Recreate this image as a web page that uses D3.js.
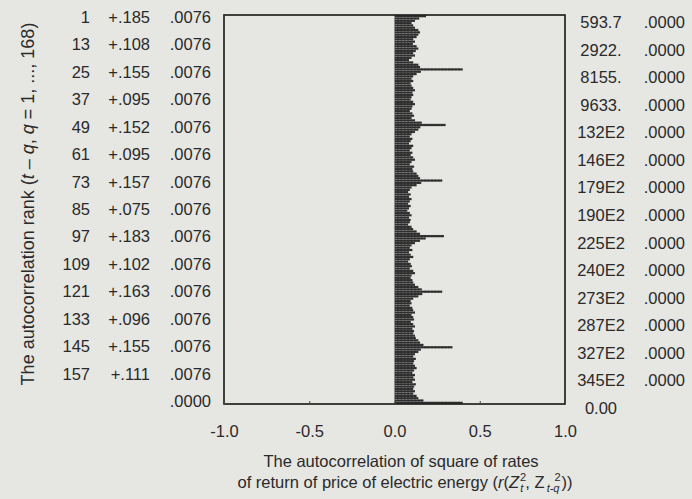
<!DOCTYPE html>
<html>
<head>
<meta charset="utf-8">
<script src="https://cdn.jsdelivr.net/npm/d3@7"></script>
<style>
  html, body { margin: 0; padding: 0; background: #e6e6e2; }
  svg { display: block; font-family: "Liberation Sans", Arial, sans-serif; }
  text { fill: #2a2a2a; }
</style>
</head>
<body>
<svg id="chart" width="692" height="499"></svg>
<script>
// Autocorrelation of squared returns, lags 1..168
const acf = [
  0.185, 0.145, 0.120, 0.100, 0.110, 0.120, 0.140, 0.150, 0.140, 0.130, 0.110, 0.120,
  0.108, 0.130, 0.140, 0.125, 0.110, 0.120, 0.100, 0.085, 0.110, 0.140, 0.150, 0.400,
  0.155, 0.130, 0.110, 0.100, 0.110, 0.095, 0.100, 0.110, 0.120, 0.105, 0.110, 0.100,
  0.095, 0.110, 0.120, 0.105, 0.100, 0.090, 0.105, 0.115, 0.100, 0.120, 0.160, 0.300,
  0.152, 0.140, 0.120, 0.100, 0.090, 0.105, 0.095, 0.085, 0.110, 0.100, 0.090, 0.105,
  0.095, 0.110, 0.120, 0.100, 0.090, 0.115, 0.105, 0.110, 0.130, 0.140, 0.150, 0.280,
  0.157, 0.130, 0.100, 0.090, 0.080, 0.095, 0.085, 0.100, 0.090, 0.080, 0.095, 0.085,
  0.075, 0.090, 0.100, 0.085, 0.095, 0.090, 0.080, 0.100, 0.110, 0.130, 0.150, 0.290,
  0.183, 0.150, 0.120, 0.100, 0.090, 0.105, 0.085, 0.095, 0.110, 0.090, 0.080, 0.095,
  0.102, 0.090, 0.110, 0.120, 0.100, 0.095, 0.105, 0.110, 0.120, 0.140, 0.160, 0.280,
  0.163, 0.140, 0.110, 0.095, 0.100, 0.090, 0.105, 0.110, 0.120, 0.100, 0.110, 0.115,
  0.096, 0.110, 0.120, 0.105, 0.115, 0.110, 0.120, 0.125, 0.140, 0.150, 0.170, 0.340,
  0.155, 0.140, 0.120, 0.110, 0.125, 0.115, 0.110, 0.120, 0.130, 0.115, 0.105, 0.120,
  0.111, 0.120, 0.105, 0.125, 0.115, 0.110, 0.120, 0.110, 0.130, 0.140, 0.170, 0.400
];
const lags = acf.map((d, i) => i + 1);

// Printed table beside the plot: every 12th lag
const tableLags = [1, 13, 25, 37, 49, 61, 73, 85, 97, 109, 121, 133, 145, 157];
const stdErr = [".0076", ".0076", ".0076", ".0076", ".0076", ".0076", ".0076",
                ".0076", ".0076", ".0076", ".0076", ".0076", ".0076", ".0076", ".0000"];
const boxLjung = ["593.7", "2922.", "8155.", "9633.", "132E2", "146E2", "179E2",
                  "190E2", "225E2", "240E2", "273E2", "287E2", "327E2", "345E2", "0.00"];
const pValues = [".0000", ".0000", ".0000", ".0000", ".0000", ".0000", ".0000",
                 ".0000", ".0000", ".0000", ".0000", ".0000", ".0000", ".0000"];
const xTicks = [-1, -0.5, 0, 0.5, 1];

const svg = d3.select("#chart");
const frame = { left: 224, right: 565, top: 15, bottom: 404 };

const x = d3.scaleLinear().domain([-1, 1]).range([frame.left, frame.right]);
const y = d3.scaleBand().domain(lags).range([frame.top, frame.bottom]).paddingInner(0);
// text rows of the printed table (one row per 12 lags)
const rowLeft = d3.scaleLinear().domain([1, 169]).range([17, 401]);
const rowRight = d3.scaleLinear().domain([1, 169]).range([22, 408]);

// checkered fill of the bars
const defs = svg.append("defs");
const pat = defs.append("pattern").attr("id", "barfill")
  .attr("patternUnits", "userSpaceOnUse")
  .attr("width", 3.4).attr("height", y.bandwidth());
pat.append("rect").attr("width", 3.4).attr("height", y.bandwidth()).attr("fill", "#2e2e2e");
pat.append("rect").attr("x", 1.4).attr("y", 0.8).attr("width", 0.9).attr("height", 0.8)
  .attr("fill", "#7a7a7a");

// bars
svg.append("g").selectAll("rect").data(lags).join("rect")
  .attr("x", d => x(Math.min(0, acf[d - 1])))
  .attr("y", d => y(d))
  .attr("width", d => Math.abs(x(acf[d - 1]) - x(0)))
  .attr("height", y.bandwidth())
  .attr("fill", "url(#barfill)");

// frame
svg.append("rect")
  .attr("x", frame.left).attr("y", frame.top)
  .attr("width", frame.right - frame.left).attr("height", frame.bottom - frame.top)
  .attr("fill", "none").attr("stroke", "#222").attr("stroke-width", 1.7);

// x axis with small inward ticks
const xAxis = d3.axisBottom(x).tickValues(xTicks).tickSize(-3).tickPadding(21)
  .tickFormat(d => d.toFixed(1));
const gx = svg.append("g").attr("transform", `translate(0,${frame.bottom})`).call(xAxis);
gx.select(".domain").remove();
gx.selectAll("line").attr("stroke", "#444");
gx.selectAll("text").attr("font-size", 16.5).attr("fill", "#2a2a2a")
  .style("font-family", "'Liberation Sans', Arial, sans-serif");

// left table: lag, autocorrelation, standard error
const fs = 16.5;
const left = svg.append("g").attr("font-size", fs);
left.selectAll("text.lag").data(tableLags).join("text").attr("class", "lag")
  .attr("x", 90).attr("y", d => rowLeft(d)).attr("dy", "0.36em")
  .attr("text-anchor", "end").text(d => d);
left.selectAll("text.acf").data(tableLags).join("text").attr("class", "acf")
  .attr("x", 150).attr("y", d => rowLeft(d)).attr("dy", "0.36em")
  .attr("text-anchor", "end")
  .text(d => "+" + acf[d - 1].toFixed(3).replace(/^0/, ""));
left.selectAll("text.se").data(stdErr).join("text").attr("class", "se")
  .attr("x", 211).attr("y", (d, i) => rowLeft(1 + i * 12)).attr("dy", "0.36em")
  .attr("text-anchor", "end").text(d => d);

// right table: Box-Ljung statistic and its probability
const right = svg.append("g").attr("font-size", fs);
right.selectAll("text.q").data(boxLjung).join("text").attr("class", "q")
  .attr("x", 601).attr("y", (d, i) => rowRight(1 + i * 12)).attr("dy", "0.36em")
  .attr("text-anchor", "middle").text(d => d);
right.selectAll("text.p").data(pValues).join("text").attr("class", "p")
  .attr("x", 685).attr("y", (d, i) => rowRight(1 + i * 12)).attr("dy", "0.36em")
  .attr("text-anchor", "end").text(d => d);

// y title
const yt = svg.append("text")
  .attr("transform", "translate(34,204) rotate(-90)")
  .attr("text-anchor", "middle").attr("font-size", 18);
yt.append("tspan").text("The autocorrelation rank (");
yt.append("tspan").attr("font-style", "italic").text("t");
yt.append("tspan").text(" \u2013 ");
yt.append("tspan").attr("font-style", "italic").text("q");
yt.append("tspan").text(", ");
yt.append("tspan").attr("font-style", "italic").text("q");
yt.append("tspan").text(" = 1, ..., 168)");

// x title (two lines)
svg.append("text").attr("x", 401).attr("y", 467).attr("text-anchor", "middle")
  .attr("font-size", 16.5).text("The autocorrelation of square of rates");
const xt = svg.append("text").attr("x", 405).attr("y", 488).attr("text-anchor", "middle")
  .attr("font-size", 16.5);
xt.append("tspan").text("of return of price of electric energy (");
xt.append("tspan").attr("font-style", "italic").text("r");
xt.append("tspan").text("(");
xt.append("tspan").attr("font-style", "italic").text("Z");
xt.append("tspan").attr("font-size", 11).attr("dy", -7).attr("dx", 1).text("2");
xt.append("tspan").attr("font-size", 11).attr("font-style", "italic").attr("dx", -6).attr("dy", 11).text("t");
xt.append("tspan").attr("dy", -4).attr("dx", 2).text(",  Z");
xt.append("tspan").attr("font-size", 11).attr("dy", -7).attr("dx", 10).text("2");
xt.append("tspan").attr("font-size", 11).attr("font-style", "italic").attr("dx", -14).attr("dy", 11).text("t-q");
xt.append("tspan").attr("dy", -4).attr("dx", 2).text("))");
</script>
</body>
</html>
